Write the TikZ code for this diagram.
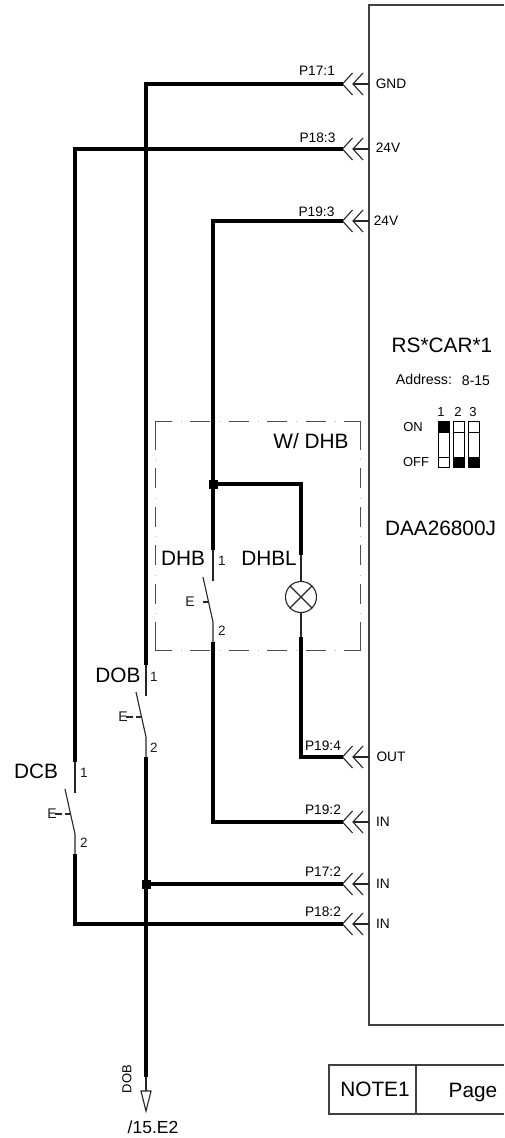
\documentclass[tikz,border=0pt]{standalone}
\usepackage{fontspec}
\setmainfont{Liberation Sans}
\newcommand{\fsz}[1]{\fontsize{#1pt}{#1pt}\selectfont}
\tikzset{
  x=1pt,y=-1pt,
  wire/.style={line width=3.6pt,black,line cap=butt,line join=miter},
  thinw/.style={line width=1.1pt,black!85},
  frame/.style={line width=1.1pt,black!75},
  dashbox/.style={line width=1pt,black!70,dash pattern=on 20pt off 18.5pt},
  cornerbox/.style={line width=1pt,black!70},
  dotbox/.style={line width=1pt,black!25,dash pattern=on 1pt off 37.5pt},
  lbl/.style={inner sep=0pt,text=black,font=\fsz{13.7}},
  big/.style={inner sep=0pt,text=black,font=\fsz{20.8}},
  num/.style={inner sep=0pt,text=black!90,font=\fsz{13.5}},
  dot/.style={fill=black,draw=none,minimum size=9pt,inner sep=0pt,shape=rectangle},
  dipbox/.style={line width=1pt,black,fill=white},
  dipfill/.style={line width=1pt,black,fill=black}
}
% double chevron connector: tip named #1 at height #2
\newcommand{\chevron}[2]{%
  \coordinate (#1) at (342.5,#2);
  \coordinate (#1b) at (353,#2);
  \coordinate (#1e) at (369,#2);
  \draw[thinw] (352.5,#2-11) -- (#1) -- (352.5,#2+11);
  \draw[thinw] (363,#2-11) -- (#1b) -- (363,#2+11);
  \draw[thinw] (#1b) -- (#1e);
}
% switch: #1 name, #2 x, #3 y of upper thin start
\newcommand{\swtch}[3]{%
  \coordinate (#1t) at (#2,#3);
  \coordinate (#1u) at (#2,#3+31);
  \coordinate (#1a) at (#2-10,#3+27);
  \coordinate (#1h) at (#2,#3+72);
  \coordinate (#1d) at (#2,#3+92);
  \draw[thinw] (#1t) -- (#1u);
  \draw[thinw] (#1a) -- (#1h) -- (#1d);
  \draw[thinw] (#2-10,#3+52) -- (#2-4.4,#3+52);
  \node[num,font=\fsz{14}] (#1E) at (#2-23,#3+52) {E};
}
\begin{document}
\begin{tikzpicture}
\useasboundingbox (0,0) rectangle (504,1138);
% main box
\coordinate (bxa) at (504,5); \coordinate (bxb) at (369,5);
\coordinate (bxc) at (369,1025); \coordinate (bxd) at (504,1025);
\draw[frame] (bxa) -- (bxb) -- (bxc) -- (bxd);
% dashed option box
\draw[cornerbox] (172,421) -- (155,421) -- (155,450);
\draw[cornerbox] (344,421) -- (360.5,421) -- (360.5,450);
\draw[cornerbox] (155,622) -- (155,650) -- (172,650);
\draw[cornerbox] (360.5,622) -- (360.5,650) -- (344,650);
\draw[dashbox] (190,421) -- (326,421);
\draw[dashbox] (190,650) -- (326,650);
\draw[dashbox] (155,468) -- (155,604);
\draw[dashbox] (360.5,468) -- (360.5,604);
\draw[dotbox] (180.5,421) -- (336,421);
\draw[dotbox] (180.5,650) -- (336,650);
\draw[dotbox] (155,459) -- (155,614);
\draw[dotbox] (360.5,459) -- (360.5,614);
% connectors
\chevron{gnd}{84}
\chevron{vaa}{149}
\chevron{vbb}{221}
\chevron{out}{757}
\chevron{ina}{822}
\chevron{inb}{884}
\chevron{inc}{924}
% switches
\swtch{dhb}{213}{550}
\swtch{dob}{146}{665}
\swtch{dcb}{75}{762}
\draw[thinw] (dobE.center) ++(3,0) -- ++(7,0);
\draw[thinw] (dcbE.center) ++(3,0) -- ++(7,0);
% lamp
\node[draw=black!85,line width=1.1pt,circle,minimum size=31pt,inner sep=0pt] (lamp) at (301,597) {};
\draw[thinw] (lamp.north west) -- (lamp.south east);
\draw[thinw] (lamp.north east) -- (lamp.south west);
\coordinate (lt) at (301,555); \coordinate (lb) at (301,637);
\draw[thinw] (lt) -- (lamp.north);
\draw[thinw] (lamp.south) -- (lb);
% wires
\node[dot] (ja) at (213,484) {};
\node[dot] (jb) at (146,884) {};
\coordinate (tipb) at (146,1077);
\draw[wire] (gnd) -| (dobt);
\draw[wire] (vaa) -| (dcbt);
\draw[wire] (vbb) -| (dhbt);
\draw[wire] (ja.center) -| (lt);
\draw[wire] (out) -| (lb);
\draw[wire] (ina) -| (dhbd);
\draw[wire] (dobd) -- (tipb);
\draw[wire] (inb) -- (jb.center);
\draw[wire] (inc) -| (dcbd);
% bottom arrow
\coordinate (arb) at (146,1091);
\coordinate (art) at (146,1111);
\draw[thinw] (tipb) -- (arb);
\draw[thinw,line join=miter] (141,1091) -- (151,1091) -- (art) -- cycle;
\node[lbl,rotate=90,font=\fsz{13}] (doblab) at (127,1079) {DOB};
\node[lbl,font=\fsz{17.5}] (pageref) at (153,1127) {/15.E2};
% note box
\coordinate (na) at (504,1065); \coordinate (nb) at (329,1065);
\coordinate (nc) at (329,1114); \coordinate (nd) at (504,1114);
\coordinate (ne) at (416,1065); \coordinate (nf) at (416,1114);
\draw[frame] (na) -- (nb) -- (nc) -- (nd);
\draw[frame] (ne) -- (nf);
\node[big] (note) at (375,1089) {NOTE1};
\node[big] (page) at (473,1092) {Page};
% connector labels
\node[lbl] (l1) at (317,71) {P17:1};
\node[lbl] (l2) at (317.5,138) {P18:3};
\node[lbl] (l3) at (316.5,212) {P19:3};
\node[lbl] (l4) at (323,746) {P19:4};
\node[lbl] (l5) at (323,810) {P19:2};
\node[lbl] (l6) at (323,872) {P17:2};
\node[lbl] (l7) at (323,912) {P18:2};
\node[lbl] (r1) at (391,84) {GND};
\node[lbl] (r2) at (388,148) {24V};
\node[lbl] (r3) at (386,221) {24V};
\node[lbl] (r4) at (391,757) {OUT};
\node[lbl] (r5) at (383,822) {IN};
\node[lbl] (r6) at (383,884) {IN};
\node[lbl] (r7) at (383,924) {IN};
% device text
\node[big] (dev) at (442,345) {RS*CAR*1};
\node[lbl,font=\fsz{14.2}] (addr) at (424,379) {Address:};
\node[lbl,font=\fsz{14}] (addv) at (476,381) {8-15};
\node[big] (daa) at (440.5,528) {DAA26800J};
% dip switch
\node[lbl,font=\fsz{13}] (on) at (413,427) {ON};
\node[lbl,font=\fsz{13}] (off) at (416,462) {OFF};
\node[lbl,font=\fsz{13}] (n1) at (441,412) {1};
\node[lbl,font=\fsz{13}] (n2) at (458,412) {2};
\node[lbl,font=\fsz{13}] (n3) at (473,412) {3};
\draw[dipbox] (438,421) rectangle (449,467);
\draw[dipbox] (453,421) rectangle (464,467);
\draw[dipbox] (468,421) rectangle (479,467);
\draw[dipfill] (438,421) rectangle (449,432);
\draw[dipbox] (438,457) rectangle (449,467);
\draw[dipbox] (453,421) rectangle (464,432);
\draw[dipfill] (453,457) rectangle (464,467);
\draw[dipbox] (468,421) rectangle (479,432);
\draw[dipfill] (468,457) rectangle (479,467);
% dashed box title and device names
\node[big] (wdhb) at (311,441) {W/ DHB};
\node[big] (dhbn) at (183,558) {DHB};
\node[big] (dhbl) at (269,558) {DHBL};
\node[big] (dobn) at (118,675) {DOB};
\node[big] (dcbn) at (36,771) {DCB};
\node[num] (p1) at (222,561) {1};
\node[num] (p2) at (222,631) {2};
\node[num] (p3) at (154,677) {1};
\node[num] (p4) at (154,748) {2};
\node[num] (p5) at (84,773) {1};
\node[num] (p6) at (84,843) {2};
\end{tikzpicture}
\end{document}
